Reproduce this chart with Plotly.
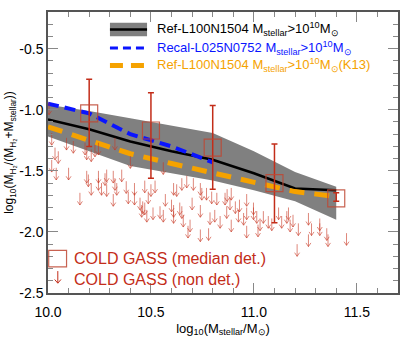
import plotly.graph_objects as go

# ---------------- data ----------------
ref_x = [10.0, 10.2, 10.4, 10.6, 10.8, 11.0, 11.2, 11.4]
ref_median = [-1.08, -1.16, -1.26, -1.34, -1.41, -1.52, -1.645, -1.66]
ref_p84 = [-0.96, -1.01, -1.07, -1.13, -1.19, -1.34, -1.51, -1.63]
ref_p16 = [-1.22, -1.34, -1.46, -1.52, -1.58, -1.66, -1.75, -1.90]

recal_x = [10.0, 10.2, 10.4, 10.6, 10.8]
recal_median = [-0.95, -1.03, -1.20, -1.30, -1.43]

k13_x = [10.0, 10.2, 10.4, 10.6, 10.8, 11.0, 11.2, 11.4]
k13_median = [-1.14, -1.25, -1.36, -1.44, -1.52, -1.59, -1.67, -1.71]

cg_x = [10.2, 10.5, 10.8, 11.1, 11.4]
cg_median = [-1.03, -1.17, -1.31, -1.60, -1.726]
cg_upper = [-0.75, -0.86, -0.965, -1.28, -1.68]
cg_lower = [-1.30, -1.56, -1.65, -1.926, -1.75]

# COLD GASS non-detections (upper limits; arrow tips)
nd_x = [10.005, 10.018, 10.034, 10.05, 10.018, 10.04, 10.09, 10.123, 10.10, 10.188,
        10.21, 10.245, 10.325, 10.40, 10.188, 10.245, 10.285, 10.317, 10.358, 10.18,
        10.228, 10.196, 10.21, 10.245, 10.26, 10.285, 10.325, 10.317, 10.334, 10.155,
        10.39, 10.42, 10.42, 10.46, 10.455, 10.447, 10.277, 10.38, 10.48, 10.51,
        10.56, 10.61, 10.65, 10.68, 10.74, 10.78, 10.56, 10.47, 10.50, 10.52,
        10.487, 10.61, 10.625, 10.65, 10.674, 10.706, 10.74, 10.747, 10.77, 10.795,
        10.82, 10.86, 10.884, 10.91, 10.93, 10.965, 10.57, 10.60, 10.64, 10.70,
        10.544, 10.47, 10.61, 10.657, 10.69, 10.74, 10.787, 10.81, 10.836, 10.868,
        10.89, 10.925, 10.965, 10.95, 10.998, 11.014, 11.03, 11.046, 11.07, 11.087,
        10.965, 11.02, 11.135, 11.16, 11.176, 11.19, 11.216, 11.21, 11.265, 11.28,
        11.32, 11.354, 11.45, 11.265, 11.36, 10.87, 10.89, 10.998, 11.12, 11.168,
        11.32]
nd_y = [-1.04, -1.29, -1.41, -1.44, -1.51, -1.575, -1.33, -1.356, -1.575, -1.41,
        -1.425, -1.37, -1.33, -1.48, -1.60, -1.60, -1.59, -1.60, -1.59, -1.37,
        -1.385, -1.63, -1.70, -1.66, -1.70, -1.71, -1.66, -1.79, -1.70, -1.78,
        -1.77, -1.78, -1.70, -1.85, -1.88, -1.82, -1.62, -1.685, -1.92, -1.90,
        -1.92, -1.88, -1.89, -2.05, -2.08, -2.07, -1.53, -1.68, -1.71, -1.68,
        -1.77, -1.70, -1.71, -1.66, -1.64, -1.66, -1.70, -1.74, -1.74, -1.77,
        -1.78, -1.78, -1.82, -1.85, -1.836, -1.79, -1.79, -1.836, -1.86, -1.82,
        -1.89, -1.86, -1.93, -1.96, -2.00, -1.88, -1.94, -1.92, -1.97, -1.89,
        -2.00, -1.92, -1.90, -1.945, -1.90, -1.93, -1.99, -1.93, -1.97, -1.99,
        -2.05, -2.04, -1.97, -1.93, -2.00, -1.96, -2.03, -2.20, -1.945, -2.03,
        -2.03, -2.07, -2.11, -2.12, -2.12, -1.75, -1.74, -1.86, -1.90, -1.90,
        -1.99]

x_tickvals = [10.0, 10.5, 11.0, 11.5]
x_ticktext = ["10.0", "10.5", "11.0", "11.5"]
y_tickvals = [-0.5, -1.0, -1.5, -2.0, -2.5]
y_ticktext = ["-0.5", "-1.0", "-1.5", "-2.0", "-2.5"]

legend_labels = [
    "Ref-L100N1504 M<sub>stellar</sub>&gt;10<sup>10</sup>M<sub>⊙</sub>",
    "Recal-L025N0752 M<sub>stellar</sub>&gt;10<sup>10</sup>M<sub>⊙</sub>",
    "Ref-L100N1504 M<sub>stellar</sub>&gt;10<sup>10</sup>M<sub>⊙</sub>(K13)",
]
obs_labels = ["COLD GASS (median det.)", "COLD GASS (non det.)"]

# ---------------- style ----------------
FONT = "Liberation Sans, Arial, Helvetica, sans-serif"
GRAY = "rgb(128,128,128)"
BLUE = "rgb(10,20,255)"
ORANGE = "rgb(245,162,0)"
RED = "rgb(195,45,25)"
RED_SQ = "rgba(190,70,50,0.85)"
ARROW = "rgba(200,55,35,0.6)"
# arrow glyph size in data units
ARR_LEN, ARR_DX, ARR_DY = 0.10, 0.012, 0.03

fig = go.Figure()

# shaded band
fig.add_trace(go.Scatter(x=ref_x, y=ref_p84, mode="lines", line=dict(width=0, color=GRAY),
                         showlegend=False, hoverinfo="skip"))
fig.add_trace(go.Scatter(x=ref_x, y=ref_p16, mode="lines", line=dict(width=0, color=GRAY),
                         fill="tonexty", fillcolor=GRAY, showlegend=False, hoverinfo="skip"))
# median lines
fig.add_trace(go.Scatter(x=ref_x, y=ref_median, mode="lines",
                         line=dict(color="black", width=2.5), showlegend=False))
fig.add_trace(go.Scatter(x=recal_x, y=recal_median, mode="lines",
                         line=dict(color=BLUE, width=4, dash="11px,6px"), showlegend=False))
fig.add_trace(go.Scatter(x=k13_x, y=k13_median, mode="lines",
                         line=dict(color=ORANGE, width=5, dash="15px,10px"), showlegend=False))

# COLD GASS detections
err_plus = [u - m for u, m in zip(cg_upper, cg_median)]
err_minus = [m - l for m, l in zip(cg_median, cg_lower)]
fig.add_trace(go.Scatter(
    x=cg_x, y=cg_median, mode="markers",
    marker=dict(symbol="square-open", size=17, color=RED_SQ, line=dict(width=1.2, color=RED_SQ)),
    error_y=dict(type="data", symmetric=False, array=err_plus, arrayminus=err_minus,
                 color=RED, thickness=1.5, width=3),
    showlegend=False))

# non-detection arrows (shaft + open head), built from the data points
ax_, ay_ = [], []
for xv, yv in zip(nd_x, nd_y):
    ax_ += [xv, xv, None, xv - ARR_DX, xv, xv + ARR_DX, None]
    ay_ += [yv + ARR_LEN, yv, None, yv + ARR_DY, yv, yv + ARR_DY, None]
fig.add_trace(go.Scatter(x=ax_, y=ay_, mode="lines", line=dict(color=ARROW, width=1),
                         showlegend=False, hoverinfo="skip", connectgaps=False))

annotations = []

# top-right legend
leg_x0, leg_x1, leg_tx = 0.177, 0.283, 0.306
leg_y = [0.938, 0.872, 0.810]
leg_colors = ["black", BLUE, ORANGE]
shapes = [
    dict(type="rect", xref="paper", yref="paper", x0=leg_x0, x1=leg_x1,
         y0=leg_y[0] - 0.024, y1=leg_y[0] + 0.024, fillcolor=GRAY, line=dict(width=0)),
    dict(type="line", xref="paper", yref="paper", x0=leg_x0, x1=leg_x1,
         y0=leg_y[0], y1=leg_y[0], line=dict(color="black", width=2.5)),
    dict(type="line", xref="paper", yref="paper", x0=leg_x0, x1=leg_x1,
         y0=leg_y[1], y1=leg_y[1], line=dict(color=BLUE, width=3, dash="8px,5px")),
    dict(type="line", xref="paper", yref="paper", x0=leg_x0, x1=leg_x1,
         y0=leg_y[2], y1=leg_y[2], line=dict(color=ORANGE, width=5, dash="13px,8px")),
    # observational legend: square
    dict(type="rect", xref="paper", yref="paper", x0=0.002, x1=0.053, y0=0.093, y1=0.152,
         line=dict(color=RED_SQ, width=1.2), fillcolor="rgba(0,0,0,0)"),
    # observational legend: arrow shaft and head
    dict(type="line", xref="paper", yref="paper", x0=0.028, x1=0.028, y0=0.035, y1=0.078,
         line=dict(color=RED, width=1)),
    dict(type="path", xref="paper", yref="paper",
         path="M 0.019,0.048 L 0.028,0.035 L 0.037,0.048", line=dict(color=RED, width=1)),
]
for lab, yv, col in zip(legend_labels, leg_y, leg_colors):
    annotations.append(dict(x=leg_tx, y=yv, xref="paper", yref="paper", text=lab,
                            showarrow=False, xanchor="left", yanchor="middle",
                            font=dict(family=FONT, size=13, color=col)))
for lab, yv in zip(obs_labels, [0.124, 0.047]):
    annotations.append(dict(x=0.068, y=yv, xref="paper", yref="paper", text=lab,
                            showarrow=False, xanchor="left", yanchor="middle",
                            font=dict(family=FONT, size=16, color=RED)))

axis_common = dict(showline=True, linecolor="#555", linewidth=1.5, mirror="ticks",
                   ticks="inside", ticklen=10, tickcolor="#888", tickwidth=1,
                   showgrid=False, zeroline=False, automargin=False,
                   tickfont=dict(family=FONT, size=14, color="black"))

fig.update_layout(
    width=415, height=341,
    margin=dict(l=48, r=17, t=12, b=48),
    paper_bgcolor="white", plot_bgcolor="white",
    font=dict(family=FONT, size=14, color="black"),
    xaxis=dict(range=[10.0, 11.7], tickvals=x_tickvals, ticktext=x_ticktext,
               minor=dict(ticks="inside", dtick=0.1, tick0=10.0, ticklen=5, tickcolor="#888"),
               ticklabelstandoff=5,
               title=dict(text="log<sub>10</sub>(M<sub>stellar</sub>/M<sub>⊙</sub>)",
                          font=dict(family=FONT, size=13), standoff=5),
               **axis_common),
    yaxis=dict(range=[-2.5, -0.2], tickvals=y_tickvals, ticktext=y_ticktext,
               minor=dict(ticks="inside", dtick=0.1, tick0=-2.5, ticklen=5, tickcolor="#888"),
               title=dict(text="log<sub>10</sub>(M<sub>H₂</sub>/(M<sub>H₂</sub>+M<sub>stellar</sub>))",
                          font=dict(family=FONT, size=12), standoff=3),
               **axis_common),
    shapes=shapes,
    annotations=annotations,
    showlegend=False,
)

fig.write_html("out.html", config={"displayModeBar": False},
               post_script="document.body.style.margin='0';document.body.style.overflow='hidden';")
